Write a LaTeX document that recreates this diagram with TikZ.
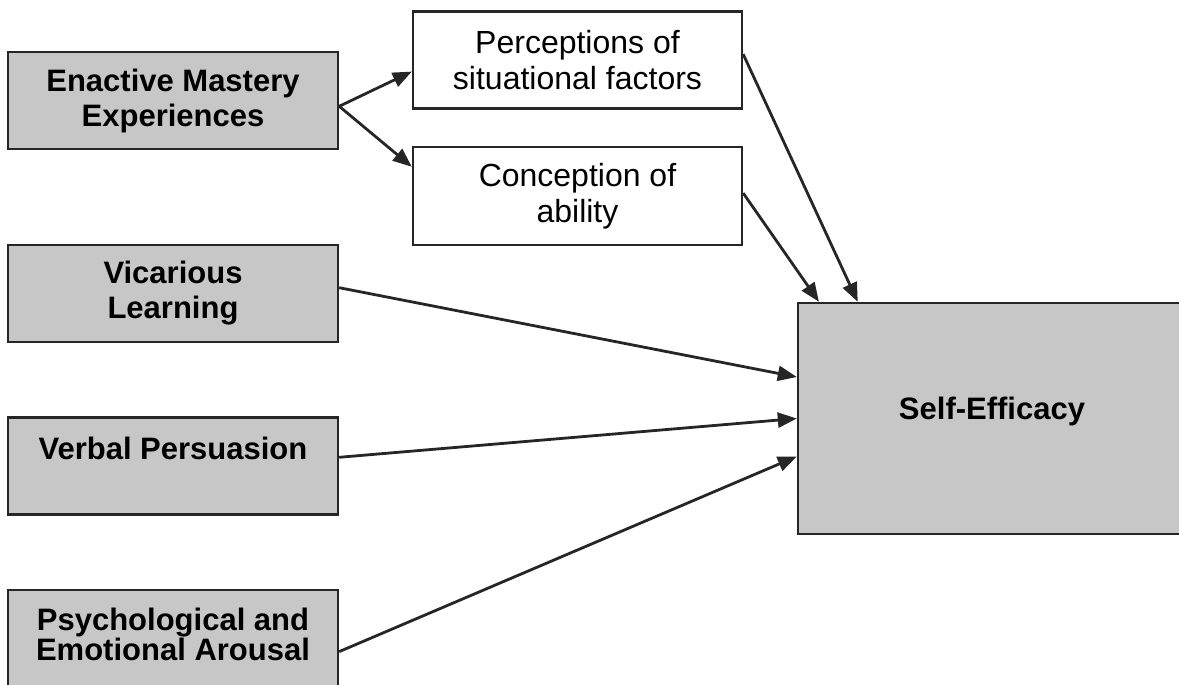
\documentclass[tikz,border=0pt]{standalone}
\usepackage{fontspec}
\setmainfont{Liberation Sans}
\usetikzlibrary{arrows.meta}
\tikzset{
  srcbox/.style={draw=black!85, line width=2.4pt, fill=black!22, minimum width=330pt, minimum height=97pt,
    inner sep=0pt, align=center, font=\bfseries\fontsize{31}{35}\selectfont},
  midbox/.style={draw=black!85, line width=2.4pt, fill=white, minimum width=329pt, minimum height=97pt,
    inner sep=0pt, align=center, font=\fontsize{32}{36}\selectfont},
  link/.style={draw=black!85, line width=2.8pt, -{Triangle[length=19pt,width=15pt]}},
}
\begin{document}
\begin{tikzpicture}[x=1pt,y=-1pt]
\useasboundingbox (0,0) rectangle (1179,685);
\node[srcbox] (enact) at (173,100.5){Enactive Mastery\\Experiences};
\node[midbox] (percep) at (577.5,60){Perceptions of\\situational factors};
\node[midbox, minimum height=98pt] (concep) at (577.5,196){Conception of\\ability};
\node[srcbox] (vicar) at (173,293.5){Vicarious\\Learning};
\node[srcbox, text height=22pt, text depth=36pt] (verbal) at (173,466){Verbal Persuasion};
\node[srcbox, minimum height=100pt, text depth=12pt] (arousal) at (173,640){Psychological and\\[-5pt]Emotional Arousal};
\node[srcbox, minimum width=388pt, minimum height=231pt, text height=22pt, text depth=21pt] (selfeff) at (992,418.5){Self-Efficacy};
\draw[link](enact.-2.6) -- (percep.184.5);
\draw[link](enact.-2.6) -- (concep.170);
\draw[link](percep.2.4) -- (selfeff.139.9);
\draw[link](concep.1.4) -- (selfeff.146.9);
\draw[link](vicar.2.9) -- (selfeff.168.2);
\draw[link](verbal.3.8) -- (selfeff.180);
\draw[link](arousal.-4.7) -- (selfeff.191.2);

\end{tikzpicture}
\end{document}
